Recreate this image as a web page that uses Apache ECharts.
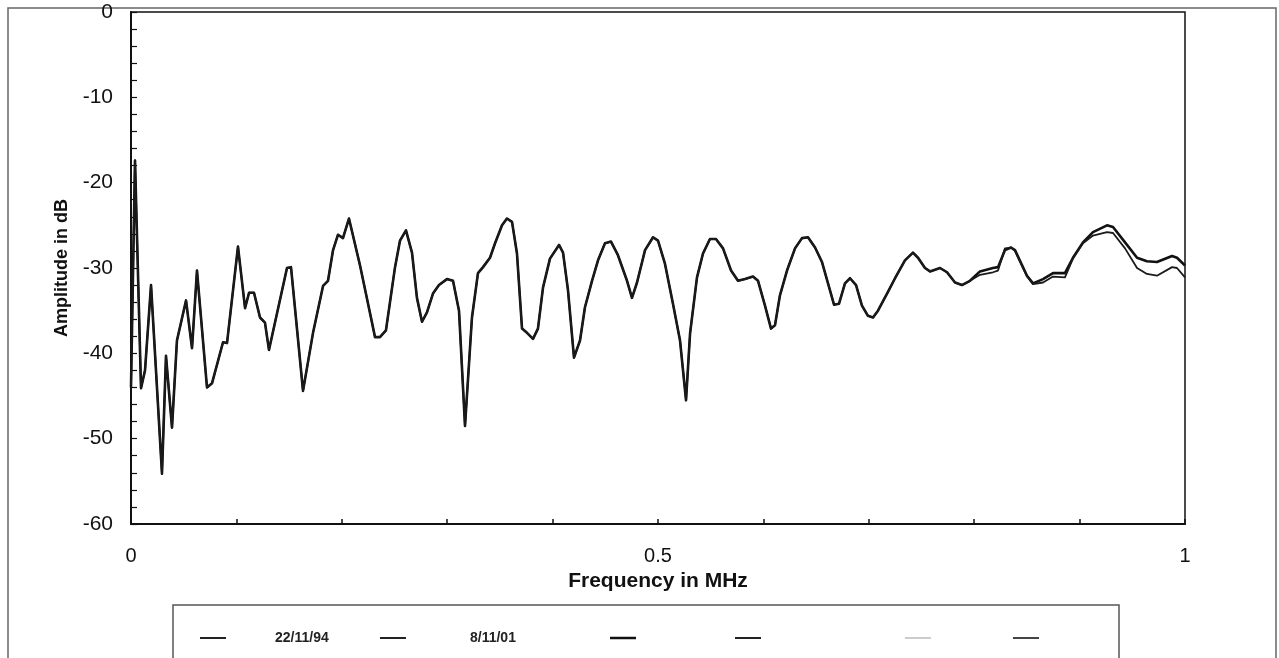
<!DOCTYPE html>
<html>
<head>
<meta charset="utf-8">
<title>Amplitude spectrum</title>
<script src="https://cdn.jsdelivr.net/npm/echarts@6/dist/echarts.min.js"></script>
<style>
  html, body { margin: 0; padding: 0; background: #fff; }
  #chart { width: 1279px; height: 658px; }
</style>
</head>
<body>
<div id="chart"></div>
<script>
// frequency in MHz, shared by both measurements
const freq = [
  0, 0.0038, 0.0095, 0.0133, 0.0190, 0.0294, 0.0332, 0.0389, 0.0436, 0.0522,
  0.0579, 0.0626, 0.0721, 0.0769, 0.0873, 0.0911, 0.1015, 0.1082, 0.1120, 0.1167,
  0.1224, 0.1271, 0.1309, 0.1480, 0.1518, 0.1632, 0.1727, 0.1822, 0.1869, 0.1917,
  0.1964, 0.2011, 0.2068, 0.2173, 0.2268, 0.2315, 0.2362, 0.2419, 0.2505, 0.2552,
  0.2609, 0.2666, 0.2713, 0.2761, 0.2808, 0.2865, 0.2922, 0.2998, 0.3055, 0.3112,
  0.3169, 0.3235, 0.3292, 0.3340, 0.3406, 0.3454, 0.3520, 0.3567, 0.3615, 0.3662,
  0.3710, 0.3757, 0.3814, 0.3861, 0.3909, 0.3975, 0.4061, 0.4099, 0.4146, 0.4203,
  0.4260, 0.4307, 0.4374, 0.4431, 0.4497, 0.4554, 0.4620, 0.4706, 0.4753, 0.4801,
  0.4877, 0.4953, 0.5000, 0.5066, 0.5142, 0.5209, 0.5266, 0.5304, 0.5370, 0.5427,
  0.5493, 0.5550, 0.5617, 0.5693, 0.5759, 0.5825, 0.5901, 0.5949, 0.6015, 0.6072,
  0.6110, 0.6157, 0.6224, 0.6300, 0.6366, 0.6423, 0.6490, 0.6556, 0.6613, 0.6670,
  0.6717, 0.6774, 0.6822, 0.6879, 0.6935, 0.6992, 0.7040, 0.7087, 0.7173, 0.7249,
  0.7343, 0.7419, 0.7467, 0.7533, 0.7581, 0.7676, 0.7742, 0.7818, 0.7884, 0.7960,
  0.8055, 0.8178, 0.8226, 0.8292, 0.8349, 0.8387, 0.8501, 0.8558, 0.8653, 0.8748,
  0.8861, 0.8937, 0.9032, 0.9127, 0.9260, 0.9317, 0.9431, 0.9545, 0.9639, 0.9734,
  0.9877, 0.9924, 1.0
];

// amplitude in dB, 22/11/94
const amp1994 = [
  -44.0, -17.4, -44.1, -42.0, -32.0, -54.1, -40.3, -48.7, -38.5, -33.8,
  -39.4, -30.3, -44.0, -43.5, -38.7, -38.8, -27.5, -34.7, -32.9, -32.9,
  -35.8, -36.4, -39.6, -30.0, -29.9, -44.4, -37.6, -32.1, -31.5, -27.9,
  -26.1, -26.5, -24.2, -29.7, -35.3, -38.1, -38.1, -37.3, -29.9, -26.8,
  -25.6, -28.2, -33.5, -36.3, -35.2, -33.0, -32.0, -31.3, -31.5, -35.0,
  -48.5, -35.8, -30.6, -29.9, -28.8, -27.1, -25.0, -24.2, -24.6, -28.3,
  -37.1, -37.6, -38.3, -37.1, -32.3, -28.9, -27.3, -28.2, -32.6, -40.5,
  -38.5, -34.6, -31.5, -29.1, -27.1, -26.9, -28.5, -31.5, -33.5, -31.7,
  -27.9, -26.4, -26.8, -29.5, -34.2, -38.5, -45.5, -37.7, -31.1, -28.3,
  -26.6, -26.6, -27.7, -30.3, -31.5, -31.3, -31.0, -31.5, -34.4, -37.1,
  -36.7, -33.2, -30.3, -27.7, -26.5, -26.4, -27.6, -29.3, -31.8, -34.3,
  -34.2, -31.8, -31.2, -32.0, -34.4, -35.6, -35.8, -35.0, -33.0, -31.2,
  -29.1, -28.2, -28.8, -30.0, -30.4, -30.0, -30.5, -31.7, -32.0, -31.5,
  -30.4, -30.0, -29.9, -27.9, -27.6, -27.9, -30.9, -31.8, -31.3, -30.6,
  -30.6, -28.8, -27.0, -25.8, -25.0, -25.2, -27.0, -28.8, -29.2, -29.3,
  -28.6, -28.8, -29.7
];

// amplitude in dB, 8/11/01 (same as 1994 until about 0.8 MHz)
const amp2001 = amp1994.slice(0, 130).concat([
  -30.8, -30.5, -30.3, -27.7, -27.6, -28.0, -31.0, -31.9, -31.7, -31.0,
  -31.1, -28.9, -27.1, -26.2, -25.8, -25.9, -27.7, -30.0, -30.7, -30.9,
  -29.9, -30.0, -31.1
]);

const yTicks = [-60, -50, -40, -30, -20, -10, 0];
const xTickLabels = ['0', '0.5', '1'];
const legendLabels = ['22/11/94', '8/11/01', '', '', '', ''];

const font = '"Liberation Sans", Arial, sans-serif';

function pairs(xs, ys) {
  return xs.map((x, i) => [x, ys[i]]);
}

// legend row (drawn by hand, the original box has irregular gaps)
const legendSamples = [
  { x: 200, w: 26, width: 2, color: '#222' },
  { x: 380, w: 26, width: 2, color: '#222' },
  { x: 610, w: 26, width: 2.5, color: '#111' },
  { x: 735, w: 26, width: 2, color: '#222' },
  { x: 905, w: 26, width: 1, color: '#999' },
  { x: 1013, w: 26, width: 2, color: '#444' },
];
const legendTextX = [275, 470, 0, 0, 0, 0];

const graphics = [
  {
    type: 'rect', silent: true,
    shape: { x: 8, y: 8, width: 1268, height: 660 },
    style: { fill: null, stroke: '#666', lineWidth: 1.5 },
  },
  {
    type: 'rect', silent: true,
    shape: { x: 173, y: 605, width: 946, height: 60 },
    style: { fill: null, stroke: '#555', lineWidth: 1.5 },
  },
];
legendSamples.forEach((s, i) => {
  graphics.push({
    type: 'line', silent: true,
    shape: { x1: s.x, y1: 638, x2: s.x + s.w, y2: 638 },
    style: { stroke: s.color, lineWidth: s.width },
  });
  if (legendLabels[i]) {
    graphics.push({
      type: 'text', silent: true,
      x: legendTextX[i], y: 638,
      style: {
        text: legendLabels[i], fill: '#222', font: 'bold 14px ' + font,
        textVerticalAlign: 'middle',
      },
    });
  }
});

const chart = echarts.init(document.getElementById('chart'));
chart.setOption({
  animation: false,
  backgroundColor: '#fff',
  grid: {
    left: 131, right: 94, top: 12, bottom: 134,
    show: true, borderColor: '#111', borderWidth: 1.5,
  },
  xAxis: {
    type: 'value', min: 0, max: 1, interval: 0.1,
    name: 'Frequency in MHz', nameLocation: 'middle', nameGap: 45,
    nameTextStyle: { color: '#111', fontSize: 21, fontWeight: 'bold', fontFamily: font },
    axisLine: { onZero: false, lineStyle: { color: '#111', width: 2 } },
    axisTick: { inside: true, length: 5, lineStyle: { color: '#111', width: 1.5 } },
    splitLine: { show: false },
    axisLabel: {
      margin: 22, color: '#111', fontSize: 20, fontFamily: font,
      formatter: (v) => {
        const s = String(Math.round(v * 10) / 10);
        return xTickLabels.includes(s) ? s : '';
      },
    },
  },
  yAxis: {
    type: 'value', min: yTicks[0], max: yTicks[yTicks.length - 1], interval: 10,
    name: 'Amplitude in dB', nameLocation: 'middle', nameGap: 60,
    nameTextStyle: { color: '#111', fontSize: 18, fontWeight: 'bold', fontFamily: font },
    axisLine: { onZero: false, lineStyle: { color: '#111', width: 2 } },
    axisTick: { inside: true, length: 6, lineStyle: { color: '#111', width: 1.2 } },
    minorTick: { show: true, splitNumber: 5, length: 6, lineStyle: { color: '#111', width: 1.2 } },
    splitLine: { show: false },
    axisLabel: { margin: 18, color: '#111', fontSize: 21, fontFamily: font },
  },
  series: [
    {
      name: '22/11/94', type: 'line', data: pairs(freq, amp1994),
      showSymbol: false, lineStyle: { color: '#111', width: 2.6, join: 'round' },
    },
    {
      name: '8/11/01', type: 'line', data: pairs(freq, amp2001),
      showSymbol: false, lineStyle: { color: '#1a1a1a', width: 1.8, join: 'round' },
    },
  ],
  graphic: graphics,
});
</script>
</body>
</html>
